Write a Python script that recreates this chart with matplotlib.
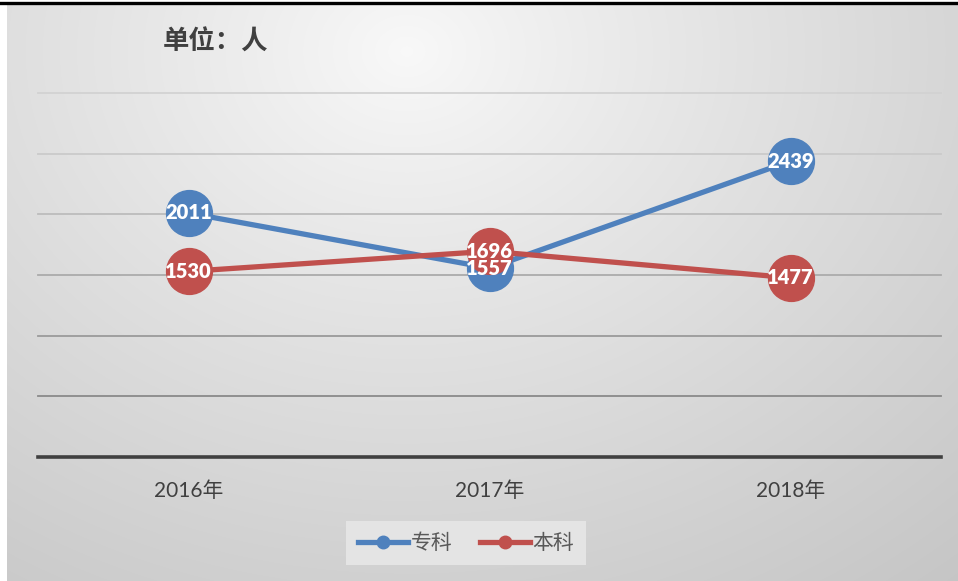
import numpy as np
import matplotlib
matplotlib.use("Agg")
import matplotlib.pyplot as plt
from matplotlib.lines import Line2D

plt.rcParams['font.family'] = ['Lato', 'Noto Sans CJK SC', 'DejaVu Sans']

categories = ['2016年', '2017年', '2018年']
zhuanke = [2011, 1557, 2439]
benke = [1530, 1696, 1477]
series_names = ['专科', '本科']
y_ticks = [0, 500, 1000, 1500, 2000, 2500, 3000]

W, H = 958, 581
fig = plt.figure(figsize=(W / 100, H / 100), dpi=100)
fig.patch.set_facecolor('white')

# background gradient
bg = fig.add_axes([7 / W, 0, (W - 7) / W, (H - 5) / H], zorder=0)
bw, bh = W - 7, H - 5
yy, xx = np.mgrid[0:bh, 0:bw]
cx, cy = 0.42 * bw, 0.08 * bh
d = np.sqrt(((xx - cx) / bw) ** 2 + ((yy - cy) / bh * 0.75) ** 2)
d = d / d.max()
v = 0.975 - 0.20 * np.clip(d, 0, 1) ** 0.9
img = np.dstack([v, v, v])
bg.imshow(img, aspect='auto', extent=[0, 1, 0, 1], origin='upper')
bg.axis('off')

# top black line
fig.add_artist(Line2D([0, 1], [1 - 3 / H, 1 - 3 / H], color='black', lw=2.4, transform=fig.transFigure))

ax = fig.add_axes([38 / W, (H - 457) / H, 903 / W, 364 / H], zorder=2)
ax.patch.set_alpha(0)
x = np.arange(len(categories))

grid_colors = ['#d2d2d2', '#cacaca', '#bcbcbc', '#ababab', '#9a9a9a', '#8a8a8a']
for yv, gc in zip(y_ticks[1:][::-1], grid_colors):
    ax.axhline(yv, color=gc, lw=1.3, zorder=1, clip_on=False)
ax.axhline(0, color='#404040', lw=2.6, zorder=2, clip_on=False)

blue = '#4f81bd'
red = '#c0504d'
ax.plot(x, zhuanke, color=blue, lw=3.8, marker='o', ms=33, zorder=3, solid_capstyle='round')
ax.plot(x, benke, color=red, lw=3.8, marker='o', ms=33, zorder=4, solid_capstyle='round')
for xi, v1 in zip(x, zhuanke):
    ax.text(xi, v1, str(v1), ha='center', va='center', color='white', fontsize=14.5,
            fontweight='heavy', zorder=6)
for xi, v2 in zip(x, benke):
    ax.text(xi, v2, str(v2), ha='center', va='center', color='white', fontsize=14.5,
            fontweight='heavy', zorder=6)

ax.set_xlim(-0.5, 2.5)
ax.set_ylim(0, 3000)
ax.set_xticks(x)
ax.set_xticklabels(categories, fontsize=15, color='#404040')
ax.tick_params(axis='x', length=0, pad=17)
ax.set_yticks([])
for s in ax.spines.values():
    s.set_visible(False)

fig.text(163 / W, 1 - 42 / H, '单位：人', fontsize=19, fontweight='bold', color='#404040',
         ha='left', va='center', family=['Noto Sans CJK SC'])

handles = [Line2D([], [], color=blue, lw=3.8, marker='o', ms=9),
           Line2D([], [], color=red, lw=3.8, marker='o', ms=9)]
leg = fig.legend(handles, series_names, loc='center', bbox_to_anchor=(466 / W, 1 - 543 / H),
                 ncol=2, frameon=True, handlelength=2.4, handletextpad=0.15,
                 columnspacing=1.3, borderpad=0.55,
                 prop={'family': ['Noto Sans CJK SC'], 'size': 15})
leg.get_frame().set_facecolor('#e4e4e4')
leg.get_frame().set_edgecolor('none')
leg.get_frame().set_alpha(1)
leg.get_frame().set_boxstyle('square', pad=0)
for t in leg.get_texts():
    t.set_color('#595959')

fig.savefig('out.png', dpi=100)
